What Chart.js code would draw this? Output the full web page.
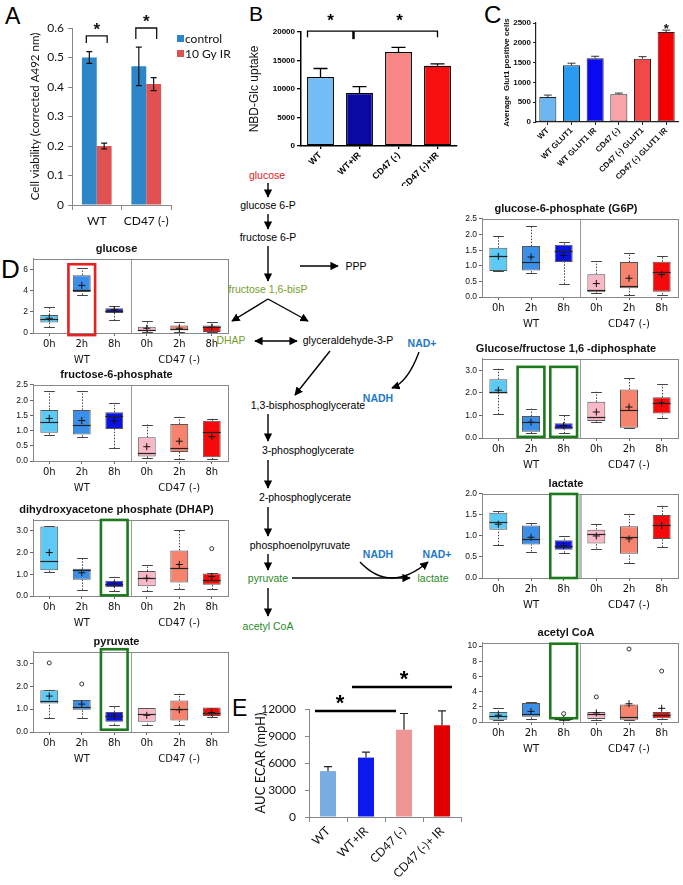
<!DOCTYPE html>
<html>
<head>
<meta charset="utf-8">
<script src="https://cdn.jsdelivr.net/npm/chart.js@4.4.0/dist/chart.umd.min.js"></script>
<style>
  body { margin: 0; background: #fff; }
  #fig { position: relative; width: 683px; height: 885px; overflow: hidden; background: #fff; }
  #fig canvas { position: absolute; }
  .panel { position: absolute; font-family: "Liberation Sans", Arial, sans-serif; line-height: 1; color: #000; }
  #path { position: absolute; left: 0; top: 0; }
</style>
</head>
<body>
<div id="fig">
  <div class="panel" style="left:5px;top:5px;font-size:23px">A</div>
  <div class="panel" style="left:249px;top:3px;font-size:21px">B</div>
  <div class="panel" style="left:484px;top:3px;font-size:24px">C</div>
  <div class="panel" style="left:1px;top:256px;font-size:26px">D</div>
  <div class="panel" style="left:232px;top:697px;font-size:23px">E</div>

  <svg id="path" width="683" height="885" font-family="Liberation Sans, Arial, sans-serif" font-size="10.5" text-anchor="middle">
    <defs>
      <marker id="ah" viewBox="0 0 10 10" refX="9" refY="5" markerWidth="6" markerHeight="6" orient="auto-start-reverse">
        <path d="M0,0 L10,5 L0,10 z" fill="#000"/>
      </marker>
    </defs>
    <g stroke="#000" stroke-width="1.4" fill="none" marker-end="url(#ah)">
      <line x1="268" y1="183" x2="268" y2="197"/>
      <line x1="268" y1="214" x2="268" y2="229"/>
      <line x1="268" y1="246" x2="268" y2="281"/>
      <line x1="300" y1="266" x2="338" y2="266"/>
      <line x1="268" y1="299" x2="232" y2="321"/>
      <line x1="268" y1="299" x2="308" y2="321"/>
      <line x1="255" y1="341" x2="297" y2="341" marker-start="url(#ah)"/>
      <line x1="330" y1="351" x2="295" y2="395"/>
      <line x1="268" y1="414" x2="268" y2="441"/>
      <line x1="268" y1="460" x2="268" y2="488"/>
      <line x1="268" y1="507" x2="268" y2="536"/>
      <line x1="268" y1="554" x2="268" y2="570"/>
      <line x1="292" y1="578" x2="410" y2="578"/>
      <line x1="268" y1="588" x2="268" y2="616"/>
      <path d="M419,352 Q408,382 392,388"/>
      <path d="M360,562 Q390,594 428,562"/>
    </g>
    <text x="267" y="179" fill="#e02020">glucose</text>
    <text x="268" y="209">glucose 6-P</text>
    <text x="268" y="241">fructose 6-P</text>
    <text x="356" y="270">PPP</text>
    <text x="268" y="293" fill="#76a02a">fructose 1,6-bisP</text>
    <text x="231" y="344" fill="#76a02a">DHAP</text>
    <text x="348" y="344">glyceraldehyde-3-P</text>
    <text x="422" y="347" fill="#1f78c8" font-weight="bold">NAD+</text>
    <text x="378" y="402" fill="#1f78c8" font-weight="bold">NADH</text>
    <text x="308" y="409">1,3-bisphosphoglycerate</text>
    <text x="308" y="454">3-phosphoglycerate</text>
    <text x="305" y="501">2-phosphoglycerate</text>
    <text x="300" y="549">phosphoenolpyruvate</text>
    <text x="378" y="558" fill="#1f78c8" font-weight="bold">NADH</text>
    <text x="437" y="558" fill="#1f78c8" font-weight="bold">NAD+</text>
    <text x="268" y="582" fill="#2a8a2a">pyruvate</text>
    <text x="433" y="582" fill="#2a8a2a">lactate</text>
    <text x="268" y="630" fill="#2a8a2a">acetyl CoA</text>
  </svg>
</div>
<script>
// ---- panel A: cell viability
const aGroups = ['WT', 'CD47 (-)'];
const aControl = [0.50, 0.47];
const aControlErr = [0.02, 0.065];
const aIR = [0.20, 0.41];
const aIRErr = [0.01, 0.022];

// ---- panel B: NBD-Glc uptake
const bLabels = ['WT', 'WT+IR', 'CD47 (-)', 'CD47 (-)+IR'];
const bUptake = [12100, 9300, 16500, 14100];
const bErr = [1500, 1100, 800, 300];

// ---- panel C: Glut1 positive cells
const cLabels = ['WT', 'WT GLUT1', 'WT GLUT1 IR', 'CD47 (-)', 'CD47 (-) GLUT1', 'CD47 (-) GLUT1 IR'];
const cCells = [630, 1430, 1610, 700, 1600, 2270];
const cErr = [50, 55, 50, 30, 50, 50];

// ---- panel E: ECAR
const eLabels = ['WT', 'WT+IR', 'CD47 (-)', 'CD47 (-)+ IR'];
const eAuc = [5100, 6600, 9700, 10200];
const eErr = [500, 600, 1800, 1600];

// ---- panel D: box plots, rows are [low whisker, q1, median, q3, high whisker]
const timeLabels = ['0h', '2h', '8h', '0h', '2h', '8h'];
const groupLabels = ['WT', 'CD47 (-)'];

const glucoseBox = [[0.55, 1.0, 1.3, 1.7, 2.45], [3.6, 3.87, 4.1, 5.47, 6.1], [1.2, 1.9, 2.1, 2.35, 2.55],
                    [0.05, 0.2, 0.3, 0.6, 1.1], [0.1, 0.3, 0.35, 0.7, 1.0], [0.05, 0.1, 0.55, 0.7, 1.0]];
const glucoseMean = [1.4, 4.5, 2.2, 0.45, 0.45, 0.55];
const glucoseOut = [null, null, null, null, null, null];

const f6pBox = [[0.87, 0.93, 1.28, 1.68, 2.3], [0.8, 0.87, 1.17, 1.68, 2.3], [0.42, 1.05, 1.47, 1.6, 1.9],
                [0.1, 0.15, 0.27, 0.78, 1.2], [0.05, 0.3, 0.42, 1.22, 1.45], [0.05, 0.12, 0.95, 1.32, 1.38]];
const f6pMean = [1.4, 1.33, 1.32, 0.47, 0.65, 0.8];
const f6pOut = [null, null, null, null, null, null];

const dhapBox = [[1.1, 1.18, 1.6, 3.2, 3.22], [0.28, 0.75, 1.2, 1.25, 1.75], [0.22, 0.4, 0.55, 0.7, 0.88],
                 [0.22, 0.45, 0.85, 1.15, 1.42], [0.33, 0.62, 1.3, 2.1, 3.02], [0.3, 0.52, 0.72, 1.03, 1.05]];
const dhapMean = [2.0, 1.07, 0.55, 0.82, 1.45, 0.9];
const dhapOut = [null, null, null, null, null, 2.18];

const pyruvateBox = [[0.6, 1.25, 1.37, 1.83, 1.85], [0.62, 0.97, 1.1, 1.4, 1.4], [0.3, 0.45, 0.7, 0.88, 1.12],
                     [0.3, 0.45, 0.8, 1.05, 1.05], [0.3, 0.5, 1.02, 1.38, 1.68], [0.65, 0.7, 0.85, 1.07, 1.07]];
const pyruvateMean = [1.57, 1.22, 0.7, 0.73, 0.97, 0.85];
const pyruvateOut = [3.02, 2.1, null, null, null, null];

const g6pBox = [[0.83, 0.83, 1.3, 1.58, 1.95], [0.78, 0.85, 1.12, 1.63, 2.27], [0.42, 1.12, 1.48, 1.67, 1.77],
                [0.12, 0.15, 0.22, 0.73, 1.15], [0.05, 0.28, 0.35, 1.12, 1.4], [0.08, 0.17, 0.8, 1.13, 1.3]];
const g6pMean = [1.3, 1.28, 1.33, 0.43, 0.6, 0.72];
const g6pOut = [null, null, null, null, null, null];

const fbpBox = [[1.05, 1.97, 2.05, 2.6, 3.07], [0.2, 0.28, 0.7, 0.97, 1.3], [0.2, 0.38, 0.5, 0.65, 1.03],
                [0.72, 0.75, 0.92, 1.6, 2.05], [0.45, 0.45, 1.25, 2.15, 2.65], [0.9, 1.08, 1.55, 1.8, 2.37]];
const fbpMean = [2.12, 0.7, 0.55, 1.15, 1.37, 1.55];
const fbpOut = [null, null, null, null, null, null];

const lactateBox = [[0.78, 1.15, 1.33, 1.55, 1.6], [0.63, 0.8, 0.93, 1.25, 1.3], [0.6, 0.67, 0.77, 0.9, 1.0],
                    [0.7, 0.82, 1.05, 1.15, 1.28], [0.36, 0.58, 0.97, 1.23, 1.52], [0.74, 0.93, 1.25, 1.5, 1.72]];
const lactateMean = [1.28, 0.97, 0.77, 1.0, 0.93, 1.25];
const lactateOut = [null, null, null, null, null, null];

const acetylBox = [[0.3, 0.3, 0.8, 1.3, 1.85], [0.4, 0.7, 1.0, 2.5, 2.6], [0.3, 0.3, 0.4, 0.5, 0.5],
                   [0.3, 0.4, 1.0, 1.3, 1.3], [0.3, 0.3, 0.7, 2.3, 2.3], [0.4, 0.5, 0.9, 1.3, 1.3]];
const acetylMean = [0.9, 1.4, 0.5, 1.2, 2.4, 1.8];
const acetylOut = [null, null, 1.1, 3.3, 9.6, 6.7];

const boxColors = ['#5ccaf4', '#3b8fe9', '#0a12e2', '#f8b8c6', '#f7836f', '#f40a0a'];

Chart.defaults.font.family = '"Liberation Sans", Arial, sans-serif';
Chart.defaults.color = '#111';
Chart.defaults.plugins.legend.display = false;
Chart.defaults.plugins.tooltip.enabled = false;

const fig = document.getElementById('fig');

// builds a chart whose plot area lands on the given page rectangle
function mk(plot, pad, config) {
  const c = document.createElement('canvas');
  const left = plot.l - pad.yw, top = plot.t - pad.top;
  const w = plot.r + pad.right - left, h = plot.b + pad.xh - top;
  c.width = w; c.height = h;
  c.style.left = left + 'px'; c.style.top = top + 'px';
  c.style.width = w + 'px'; c.style.height = h + 'px';
  fig.appendChild(c);
  if (pad.spacing) c.getContext('2d').letterSpacing = pad.spacing;
  const o = config.options;
  o.responsive = false;
  o.devicePixelRatio = 1;
  o.animation = false;
  o.layout = { padding: { top: pad.top - (pad.titleH || 0), right: pad.right, left: 0, bottom: 0 } };
  o.scales.x.afterFit = s => { s.height = pad.xh; };
  o.scales.y.afterFit = s => { s.width = pad.yw; };
  return new Chart(c, config);
}

// error bars for bar charts
Chart.register({
  id: 'errbars',
  afterDatasetsDraw(chart, args, o) {
    if (!o.sets) return;
    const ctx = chart.ctx, ys = chart.scales.y;
    ctx.save();
    ctx.strokeStyle = o.color || '#000';
    ctx.lineWidth = o.lw || 1;
    o.sets.forEach((errs, di) => {
      const vals = chart.data.datasets[di].data;
      chart.getDatasetMeta(di).data.forEach((bar, i) => {
        const top = ys.getPixelForValue(vals[i] + errs[i]);
        const bot = ys.getPixelForValue(o.both ? vals[i] - errs[i] : vals[i]);
        ctx.beginPath();
        ctx.moveTo(bar.x, bot); ctx.lineTo(bar.x, top);
        ctx.moveTo(bar.x - o.cap, top); ctx.lineTo(bar.x + o.cap, top);
        if (o.both) { ctx.moveTo(bar.x - o.cap, bot); ctx.lineTo(bar.x + o.cap, bot); }
        ctx.stroke();
      });
    });
    ctx.restore();
  }
});

// whiskers, medians, frame, divider and highlight boxes for the box plots
Chart.register({
  id: 'boxparts',
  beforeDatasetsDraw(chart, args, o) {
    if (!o.box) return;
    const ctx = chart.ctx, ys = chart.scales.y, meta = chart.getDatasetMeta(0);
    ctx.save();
    ctx.strokeStyle = '#444';
    ctx.lineWidth = 1;
    o.box.forEach((r, i) => {
      const bar = meta.data[i], x = Math.round(bar.x) + 0.5, cw = bar.width * 0.3;
      ctx.setLineDash([1.5, 1.5]);
      ctx.beginPath();
      ctx.moveTo(x, ys.getPixelForValue(r[0])); ctx.lineTo(x, ys.getPixelForValue(r[1]));
      ctx.moveTo(x, ys.getPixelForValue(r[3])); ctx.lineTo(x, ys.getPixelForValue(r[4]));
      ctx.stroke();
      ctx.setLineDash([]);
      ctx.beginPath();
      [r[0], r[4]].forEach(v => {
        const y = Math.round(ys.getPixelForValue(v)) + 0.5;
        ctx.moveTo(x - cw, y); ctx.lineTo(x + cw, y);
      });
      ctx.stroke();
    });
    ctx.restore();
  },
  afterDatasetsDraw(chart, args, o) {
    if (!o.box) return;
    const ctx = chart.ctx, ys = chart.scales.y, xs = chart.scales.x, a = chart.chartArea;
    const meta = chart.getDatasetMeta(0);
    ctx.save();
    ctx.strokeStyle = '#222';
    ctx.lineWidth = 1.2;
    o.box.forEach((r, i) => {
      const bar = meta.data[i], y = Math.round(ys.getPixelForValue(r[2])) + 0.5;
      ctx.beginPath();
      ctx.moveTo(bar.x - bar.width / 2, y); ctx.lineTo(bar.x + bar.width / 2, y);
      ctx.stroke();
    });
    // group divider
    const dx = Math.round((xs.getPixelForValue(2) + xs.getPixelForValue(3)) / 2) + 0.5;
    ctx.strokeStyle = o.divColor || '#999';
    ctx.lineWidth = o.divWidth || 1;
    ctx.beginPath(); ctx.moveTo(dx, a.top); ctx.lineTo(dx, a.bottom); ctx.stroke();
    // frame
    ctx.strokeStyle = '#888';
    ctx.lineWidth = 1;
    ctx.strokeRect(Math.round(a.left) + 0.5, Math.round(a.top) + 0.5, Math.round(a.right - a.left), Math.round(a.bottom - a.top));
    // highlight rectangles
    (o.marks || []).forEach(m => {
      const cx = xs.getPixelForValue(m.idx), half = (xs.getPixelForValue(1) - xs.getPixelForValue(0)) * 0.41;
      const y1 = ys.getPixelForValue(m.top), y2 = ys.getPixelForValue(m.bottom);
      ctx.strokeStyle = m.color;
      ctx.lineWidth = 2.6;
      ctx.strokeRect(cx - half, y1, half * 2, y2 - y1);
    });
    ctx.restore();
  }
});

const timeTicks = timeLabels.map((t, i) => i === 1 ? [t, groupLabels[0]] : i === 4 ? [t, groupLabels[1]] : [t]);

function boxChart(plot, title, box, mean, out, yMax, step, extra) {
  extra = extra || {};
  return mk(plot, { yw: 30, xh: 38, top: 18, titleH: 18, right: 3 }, {
    type: 'bar',
    data: {
      labels: timeTicks,
      datasets: [
        { data: box.map(r => [r[1], r[3]]), backgroundColor: boxColors, borderColor: '#555', borderWidth: 1,
          borderSkipped: false, barPercentage: 0.55, categoryPercentage: 1, order: 2 },
        { type: 'line', data: mean, showLine: false, pointStyle: 'cross', pointRadius: 3.5,
          borderColor: '#111', borderWidth: 1, order: 1 },
        { type: 'line', data: out, showLine: false, pointStyle: 'circle', pointRadius: 2,
          backgroundColor: '#fff', borderColor: '#333', borderWidth: 1, order: 0 }
      ]
    },
    options: {
      plugins: {
        title: { display: true, text: title, color: '#111', font: { size: 11, weight: 'bold', lineHeight: 1.36 },
                 padding: { top: 0, bottom: 3 } },
        boxparts: { box: box, marks: extra.marks, divColor: extra.divColor, divWidth: extra.divWidth }
      },
      scales: {
        x: {
          grid: { display: true, drawOnChartArea: false, offset: false, tickLength: 3, color: '#666' },
          border: { color: '#888' },
          ticks: { font: { family: '"DejaVu Sans", sans-serif', size: 10, lineHeight: 1.6 }, padding: 0,
                   color: '#111', autoSkip: false, maxRotation: 0 }
        },
        y: {
          min: 0, max: yMax,
          grid: { drawOnChartArea: false, tickLength: 3, color: '#666' },
          border: { color: '#888' },
          ticks: { stepSize: step, includeBounds: false, font: { size: 8.5 }, padding: 2, color: '#111',
                   callback: extra.intTicks ? v => String(v) : v => v.toFixed(1) }
        }
      }
    }
  });
}

const green = '#1c7a1c';
boxChart({ l: 33, t: 259, r: 230, b: 333 }, 'glucose', glucoseBox, glucoseMean, glucoseOut, 7, 1,
  { intTicks: true, marks: [{ idx: 1, top: 6.5, bottom: -0.2, color: '#e52222' }] });
boxChart({ l: 33, t: 385, r: 230, b: 461 }, 'fructose-6-phosphate', f6pBox, f6pMean, f6pOut, 2.5, 0.5);
boxChart({ l: 33, t: 520, r: 230, b: 596 }, 'dihydroxyacetone phosphate (DHAP)', dhapBox, dhapMean, dhapOut, 3.5, 0.5,
  { marks: [{ idx: 2, top: 3.5, bottom: 0.03, color: green }] });
boxChart({ l: 33, t: 652, r: 230, b: 732 }, 'pyruvate', pyruvateBox, pyruvateMean, pyruvateOut, 3.5, 0.5,
  { marks: [{ idx: 2, top: 3.62, bottom: 0.1, color: green }] });
boxChart({ l: 482, t: 219, r: 680, b: 297 }, 'glucose-6-phosphate (G6P)', g6pBox, g6pMean, g6pOut, 2.5, 0.5);
boxChart({ l: 482, t: 359, r: 680, b: 438 }, 'Glucose/fructose 1,6 -diphosphate', fbpBox, fbpMean, fbpOut, 3.5, 0.5,
  { marks: [{ idx: 1, top: 3.15, bottom: 0.05, color: green }, { idx: 2, top: 3.15, bottom: 0.05, color: green }] });
boxChart({ l: 482, t: 494, r: 680, b: 578 }, 'lactate', lactateBox, lactateMean, lactateOut, 2.0, 0.5,
  { divColor: '#bbb', divWidth: 3, marks: [{ idx: 2, top: 2.0, bottom: 0.0, color: green }] });
boxChart({ l: 482, t: 643, r: 680, b: 722 }, 'acetyl CoA', acetylBox, acetylMean, acetylOut, 10.4, 2,
  { intTicks: true, marks: [{ idx: 2, top: 10.3, bottom: 0.5, color: green }] });

// ---- panel A
mk({ l: 72, t: 28, r: 171, b: 205 }, { yw: 47, xh: 25, top: 18, right: 61 }, {
  type: 'bar',
  data: {
    labels: aGroups,
    datasets: [
      { label: 'control', data: aControl, backgroundColor: '#2e86c8', barPercentage: 1, categoryPercentage: 0.6 },
      { label: '10 Gy IR', data: aIR, backgroundColor: '#e05252', barPercentage: 1, categoryPercentage: 0.6 }
    ]
  },
  options: {
    plugins: { errbars: { sets: [aControlErr, aIRErr], both: true, cap: 3, color: '#111', lw: 1.2 } },
    scales: {
      x: { grid: { display: true, drawOnChartArea: false, tickLength: 5, color: '#888' }, border: { color: '#888' },
           ticks: { font: { family: 'Lato, sans-serif', size: 12 }, padding: 4, color: '#111', autoSkip: false, minRotation: 0, maxRotation: 0 } },
      y: { min: 0, max: 0.6, grid: { drawOnChartArea: false, tickLength: 4, color: '#888' }, border: { color: '#888' },
           ticks: { stepSize: 0.1, font: { family: 'Lato, sans-serif', size: 12 }, padding: 4, color: '#111' },
           title: { display: true, text: 'Cell viability (corrected A492 nm)', font: { family: 'Lato, sans-serif', size: 11.5 }, padding: { top: 3, bottom: 0 } } }
    }
  },
  plugins: [{
    id: 'aNotes',
    afterDraw(chart) {
      const ctx = chart.ctx, ys = chart.scales.y, a = chart.chartArea;
      const m0 = chart.getDatasetMeta(0).data, m1 = chart.getDatasetMeta(1).data;
      ctx.save();
      ctx.strokeStyle = '#111'; ctx.lineWidth = 1.3;
      [[0, 0.573, 0.549], [1, 0.6, 0.563]].forEach(([i, t, b]) => {
        const x1 = m0[i].x - 3, x2 = m1[i].x + 3, y1 = ys.getPixelForValue(t), y2 = ys.getPixelForValue(b);
        ctx.beginPath(); ctx.moveTo(x1, y2); ctx.lineTo(x1, y1); ctx.lineTo(x2, y1); ctx.lineTo(x2, y2); ctx.stroke();
        ctx.fillStyle = '#111'; ctx.font = 'bold 17px "Liberation Sans", Arial'; ctx.textAlign = 'center';
        ctx.fillText('*', (x1 + x2) / 2, y1 - 1);
      });
      // legend
      ctx.font = '12px Lato, sans-serif'; ctx.textAlign = 'left'; ctx.textBaseline = 'middle';
      chart.data.datasets.forEach((d, i) => {
        const y = a.top + 11 + i * 15;
        ctx.fillStyle = d.backgroundColor; ctx.fillRect(a.right + 6, y - 4, 7, 7);
        ctx.fillStyle = '#111'; ctx.fillText(d.label, a.right + 14, y);
      });
      ctx.restore();
    }
  }]
});

// ---- panel B
mk({ l: 301, t: 32, r: 457, b: 146 }, { yw: 58, xh: 40, top: 20, right: 3, spacing: '0.8px' }, {
  type: 'bar',
  data: {
    labels: bLabels,
    datasets: [{ data: bUptake, backgroundColor: ['#72bcf8', '#0a0aa2', '#f98686', '#f70e0e'],
                 borderColor: '#000', borderWidth: 1.3, borderSkipped: false, barPercentage: 0.69, categoryPercentage: 1 }]
  },
  options: {
    plugins: { errbars: { sets: [bErr], cap: 7, color: '#000', lw: 1.3 } },
    scales: {
      x: { grid: { display: true, drawOnChartArea: false, offset: false, tickLength: 3, color: '#000', lineWidth: 1.3 },
           border: { color: '#000', width: 1.5 },
           ticks: { minRotation: 45, maxRotation: 45, autoSkip: false, font: { size: 9, weight: 'bold' }, padding: 1, color: '#000' } },
      y: { min: 0, max: 20000, grid: { drawOnChartArea: false, tickLength: 4, color: '#000', lineWidth: 1.3 },
           border: { color: '#000', width: 1.5 },
           ticks: { stepSize: 5000, font: { size: 8, weight: 'bold' }, padding: 2, color: '#000', callback: v => String(v) },
           title: { display: true, text: 'NBD-Glc uptake', font: { size: 12 }, color: '#111', padding: { top: 4, bottom: 0 } } }
    }
  },
  plugins: [{
    id: 'bNotes',
    afterDraw(chart) {
      const ctx = chart.ctx, ys = chart.scales.y, m = chart.getDatasetMeta(0).data;
      const y1 = ys.getPixelForValue(20150), y2 = ys.getPixelForValue(19100);
      const x1 = m[0].x - 13, x2 = m[3].x, xm = m[1].x - 6;
      ctx.save();
      ctx.strokeStyle = '#000'; ctx.lineWidth = 1.3;
      ctx.beginPath(); ctx.moveTo(x1, y2); ctx.lineTo(x1, y1); ctx.lineTo(x2, y1); ctx.lineTo(x2, y2); ctx.stroke();
      ctx.lineWidth = 2.5;
      ctx.beginPath(); ctx.moveTo(xm, y1); ctx.lineTo(xm, y2 + 2); ctx.stroke();
      ctx.fillStyle = '#000'; ctx.font = 'bold 17px "Liberation Sans", Arial'; ctx.textAlign = 'center';
      ctx.fillText('*', m[0].x + 10, y1 - 5);
      ctx.fillText('*', m[2].x + 1, y1 - 5);
      ctx.restore();
    }
  }]
});

// ---- panel C
mk({ l: 536, t: 23, r: 678, b: 122 }, { yw: 38, xh: 58, top: 10, right: 4, spacing: '0.8px' }, {
  type: 'bar',
  data: {
    labels: cLabels,
    datasets: [{ data: cCells, backgroundColor: ['#6cb6f2', '#2b9bf2', '#0a0af2', '#f8a2aa', '#f24848', '#f50000'],
                 borderColor: '#222', borderWidth: 1, borderSkipped: false, barPercentage: 0.72, categoryPercentage: 1 }]
  },
  options: {
    plugins: { errbars: { sets: [cErr], cap: 4, color: '#333', lw: 1 } },
    scales: {
      x: { grid: { display: true, drawOnChartArea: false, offset: false, tickLength: 3, color: '#222' },
           border: { color: '#222', width: 1.2 },
           ticks: { minRotation: 45, maxRotation: 45, autoSkip: false, font: { size: 8, weight: 'bold' }, padding: 1, color: '#111' } },
      y: { min: 0, max: 2500, grid: { drawOnChartArea: false, tickLength: 3, color: '#222' },
           border: { color: '#222', width: 1.2 },
           ticks: { stepSize: 500, font: { size: 8, weight: 'bold' }, padding: 2, color: '#111', callback: v => String(v) },
           title: { display: true, text: 'Average  Glut1 positive cells', font: { size: 8, weight: 'bold' }, color: '#111', padding: { top: 4, bottom: 0 } } }
    }
  },
  plugins: [{
    id: 'cNotes',
    afterDraw(chart) {
      const ctx = chart.ctx, ys = chart.scales.y, m = chart.getDatasetMeta(0).data;
      ctx.save();
      ctx.fillStyle = '#111'; ctx.font = 'bold 13px "Liberation Sans", Arial'; ctx.textAlign = 'center';
      ctx.fillText('*', m[5].x, ys.getPixelForValue(2330) + 3);
      ctx.restore();
    }
  }]
});

// ---- panel E
mk({ l: 309, t: 709, r: 461, b: 817 }, { yw: 59, xh: 62, top: 40, right: 4 }, {
  type: 'bar',
  data: {
    labels: eLabels,
    datasets: [{ data: eAuc, backgroundColor: ['#79ade0', '#0a1aee', '#ee9696', '#e00000'], barPercentage: 0.42, categoryPercentage: 1 }]
  },
  options: {
    plugins: { errbars: { sets: [eErr], cap: 4, color: '#222', lw: 1.2 } },
    scales: {
      x: { grid: { display: true, drawOnChartArea: false, tickLength: 5, color: '#888' }, border: { color: '#888' },
           ticks: { minRotation: 45, maxRotation: 45, autoSkip: false, font: { family: 'Lato, sans-serif', size: 12 }, padding: 2, color: '#111' } },
      y: { min: 0, max: 12000, grid: { drawOnChartArea: false, tickLength: 4, color: '#888' }, border: { color: '#888' },
           ticks: { stepSize: 3000, font: { family: 'Lato, sans-serif', size: 12 }, padding: 9, color: '#111', callback: v => String(v) },
           title: { display: true, text: 'AUC ECAR (mpH)', font: { family: 'Lato, sans-serif', size: 13 }, color: '#111', padding: { top: 3, bottom: 0 } } }
    }
  },
  plugins: [{
    id: 'eNotes',
    afterDraw(chart) {
      const ctx = chart.ctx, m = chart.getDatasetMeta(0).data, a = chart.chartArea;
      ctx.save();
      ctx.strokeStyle = '#000'; ctx.lineWidth = 2.5;
      ctx.beginPath();
      ctx.moveTo(m[0].x - 13, a.top + 2); ctx.lineTo(m[2].x - 8, a.top + 2);
      ctx.moveTo(m[1].x - 14, a.top - 22); ctx.lineTo(m[3].x + 10, a.top - 22);
      ctx.stroke();
      ctx.fillStyle = '#000'; ctx.font = 'bold 22px "Liberation Sans", Arial'; ctx.textAlign = 'center';
      ctx.fillText('*', (m[0].x + m[2].x) / 2 - 26, a.top + 1);
      ctx.fillText('*', (m[1].x + m[3].x) / 2, a.top - 23);
      ctx.restore();
    }
  }]
});
</script>
</body>
</html>
